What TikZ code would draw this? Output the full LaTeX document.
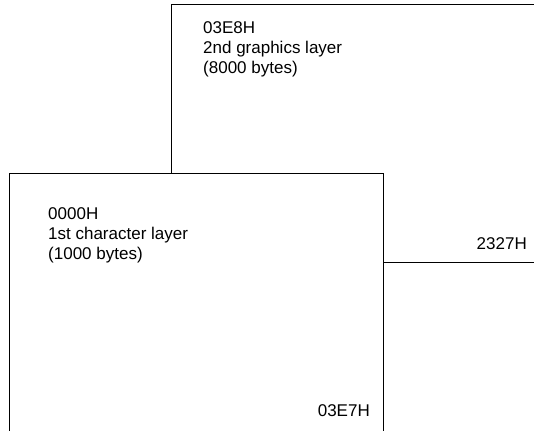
\documentclass[tikz,border=0pt]{standalone}
\usepackage{fontspec}
\setmainfont{Liberation Sans}
\begin{document}
\begin{tikzpicture}[x=1pt,y=-1pt,
  layer/.style={draw=black,fill=white,line width=0.9pt},
  lbl/.style={anchor=base west,inner sep=0pt,align=left,font=\fontsize{17}{20}\selectfont},
  addr/.style={anchor=base east,inner sep=0pt,font=\fontsize{17}{20}\selectfont}]
\useasboundingbox (0,0) rectangle (534,430);
\clip (0,0) rectangle (534,430);
% 2nd graphics layer (back)
\draw[layer] (171,4) rectangle (545,262);
% 1st character layer (front)
\draw[layer] (9,173) rectangle (383,445);
\node[lbl] (g) at (203,74) {03E8H\\2nd graphics layer\\(8000 bytes)};
\node[lbl] (c) at (48,259) {0000H\\1st character layer\\(1000 bytes)};
\node[addr] (gend) at (527,249) {2327H};
\node[addr] (cend) at (370,416) {03E7H};
\end{tikzpicture}
\end{document}
